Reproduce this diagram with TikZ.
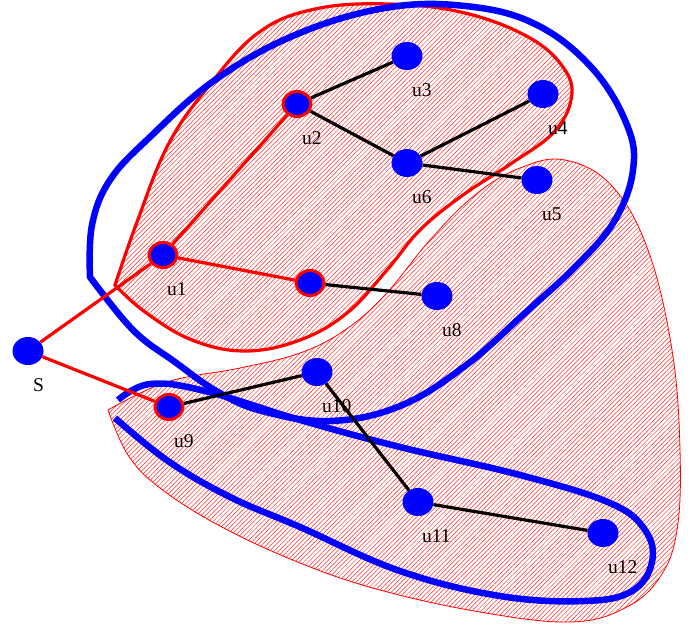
\documentclass[tikz,border=0pt]{standalone}
\usepackage{fontspec}
\setmainfont{Liberation Serif}
\usetikzlibrary{shapes.geometric,patterns.meta}
\begin{document}
\begin{tikzpicture}[x=1pt,y=-1pt,
  vtx/.style={ellipse,fill=blue,minimum width=31pt,minimum height=28pt,inner sep=0pt},
  rvtx/.style={ellipse,fill=blue,draw=red,line width=3pt,minimum width=28pt,minimum height=25pt,inner sep=0pt},
  lbl/.style={anchor=base west,inner sep=0pt,font=\fontsize{19.5}{22}\selectfont},
  redge/.style={red,line width=3.2pt},
  bedge/.style={black,line width=3.2pt},
  hatch/.style={pattern={Lines[angle=45,distance=3.2pt,line width=0.5pt]},pattern color=red!85},
  bluelp/.style={blue,line width=6.5pt},
]
\useasboundingbox (0,0) rectangle (692,626);
% regions
\draw[red,line width=0.8pt,hatch] plot[smooth,tension=0.65] coordinates {(108,410) (167,382) (240,368) (300,353) (345,330) (385,295) (430,240) (475,195) (520,168) (565,160) (612,186) (648,250) (672,350) (680,450) (677,530) (660,577) (625,608) (570,622) (480,612) (380,590) (300,563) (220,526) (160,488) (128,455) (108,410)} -- cycle;
\draw[red,line width=3.2pt,hatch] plot[smooth,tension=0.65] coordinates {(115,285) (137,222) (168,145) (208,87) (258,33) (315,9) (390,4) (465,13) (530,38) (565,70) (571,100) (553,133) (512,163) (463,195) (420,230) (387,270) (347,313) (300,340) (245,351) (192,340) (145,312) (115,285)} -- cycle;
% blue loops
\draw[bluelp] plot[smooth,tension=0.65] coordinates {(90,277) (92,225) (110,180) (150,137) (215,80) (295,35) (385,8) (465,6) (535,24) (592,68) (627,125) (633,170) (615,220) (578,264) (525,313) (465,366) (400,406) (330,421) (262,411) (218,392) (175,362) (133,330) (90,277)} -- cycle;
\draw[bluelp] plot[smooth,tension=0.65] coordinates {(118,400) (150,384) (205,391) (300,420) (400,447) (520,475) (610,503) (645,530) (652,562) (632,591) (585,601) (500,596) (400,571) (300,527) (230,497) (168,461) (115,418)};
% nodes
\node[vtx] (S) at (28,351) {};
\node[rvtx] (u1) at (163,255) {};
\node[rvtx] (u2) at (297,104) {};
\node[vtx] (u3) at (407,56) {};
\node[vtx] (u4) at (543,94) {};
\node[vtx] (u5) at (537,180) {};
\node[vtx] (u6) at (407,163) {};
\node[rvtx] (v7) at (310,283) {};
\node[vtx] (u8) at (437,296) {};
\node[rvtx] (u9) at (169,407) {};
\node[vtx] (u10) at (317,372) {};
\node[vtx] (u11) at (418,502) {};
\node[vtx] (u12) at (603,533) {};
% edges
\draw[redge] (S) -- (u1);
\draw[redge] (S) -- (u9);
\draw[redge] (u1) -- (u2);
\draw[redge] (u1) -- (v7);
\draw[bedge] (u2) -- (u3);
\draw[bedge] (u2) -- (u6);
\draw[bedge] (u6) -- (u4);
\draw[bedge] (u6) -- (u5);
\draw[bedge] (v7) -- (u8);
\draw[bedge] (u9) -- (u10);
\draw[bedge] (u10) -- (u11);
\draw[bedge] (u11) -- (u12);
% labels
\node[lbl] (lS) at ([shift={(5,40.5)}]S.center) {S};
\node[lbl] (l1) at ([shift={(4,40.5)}]u1.center) {u1};
\node[lbl] (l2) at ([shift={(5,40.5)}]u2.center) {u2};
\node[lbl] (l3) at ([shift={(5,40.5)}]u3.center) {u3};
\node[lbl] (l4) at ([shift={(5,40.5)}]u4.center) {u4};
\node[lbl] (l5) at ([shift={(5,40.5)}]u5.center) {u5};
\node[lbl] (l6) at ([shift={(5,40.5)}]u6.center) {u6};
\node[lbl] (l8) at ([shift={(5,40.5)}]u8.center) {u8};
\node[lbl] (l9) at ([shift={(5,40.5)}]u9.center) {u9};
\node[lbl] (l10) at ([shift={(5,40.5)}]u10.center) {u10};
\node[lbl] (l11) at ([shift={(4,40.5)}]u11.center) {u11};
\node[lbl] (l12) at ([shift={(5,40.5)}]u12.center) {u12};
\end{tikzpicture}
\end{document}
